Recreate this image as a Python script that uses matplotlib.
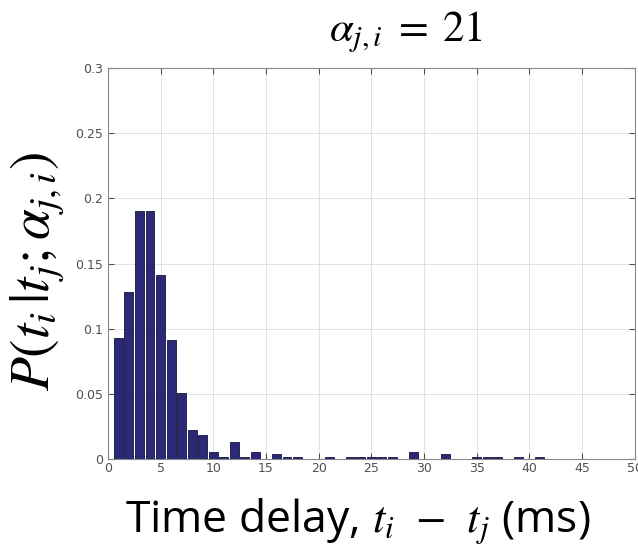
import numpy as np
import matplotlib
matplotlib.use('Agg')
import matplotlib.pyplot as plt

plt.rcParams['mathtext.fontset'] = 'stix'

# bin centre (ms) and probability
delay = [1, 2, 3, 4, 5, 6, 7, 8, 9, 10, 11, 12, 13, 14, 16, 17, 18,
         21, 23, 24, 25, 26, 27, 29, 32, 35, 36, 37, 39, 41]
prob = [0.093, 0.128, 0.19, 0.19, 0.1415, 0.0915, 0.051, 0.022, 0.0185, 0.0055,
        0.0015, 0.013, 0.0015, 0.0055, 0.004, 0.0015, 0.0015,
        0.0015, 0.0015, 0.0015, 0.0015, 0.0015, 0.0015, 0.0055, 0.004,
        0.0015, 0.0015, 0.0015, 0.0015, 0.0015]

xticks = np.arange(0, 51, 5)
yticks = [0, 0.05, 0.1, 0.15, 0.2, 0.25, 0.3]
ytick_labels = ['0', '0.05', '0.1', '0.15', '0.2', '0.25', '0.3']

fig = plt.figure(figsize=(6.38, 5.53), dpi=100)
ax = fig.add_axes([0.169, 0.170, 0.826, 0.707])

ax.bar(delay, prob, width=0.85, color='#2b2878', edgecolor='#15153a', linewidth=0.6, zorder=3)

ax.set_xlim(0, 50)
ax.set_ylim(0, 0.3)
ax.set_xticks(xticks)
ax.set_yticks(yticks)
ax.set_yticklabels(ytick_labels)
ax.tick_params(direction='in', length=4, labelsize=9, colors='#505050', top=True, right=True)
ax.tick_params(axis='x', pad=2)
ax.grid(True, color='#e2e2e2', linewidth=0.7, zorder=0)
for s in ax.spines.values():
    s.set_color('#888888')
    s.set_linewidth(0.8)

fig.text(406 / 638, 1 - 32 / 553, r'$\alpha_{j,i}\;=\;21$', fontsize=31, ha='center', va='center')
fig.text(38 / 638, 1 - 272 / 553, r'$P(t_i\,|t_j;\alpha_{j,i})$', fontsize=40, ha='center', va='center', rotation=90)
fig.text(358 / 638, 1 - 521 / 553, r'Time delay, $t_i\;\,-\;\,t_j$ (ms)', fontsize=32, ha='center', va='center',
         family='Open Sans')

fig.savefig('out.png', dpi=100)
